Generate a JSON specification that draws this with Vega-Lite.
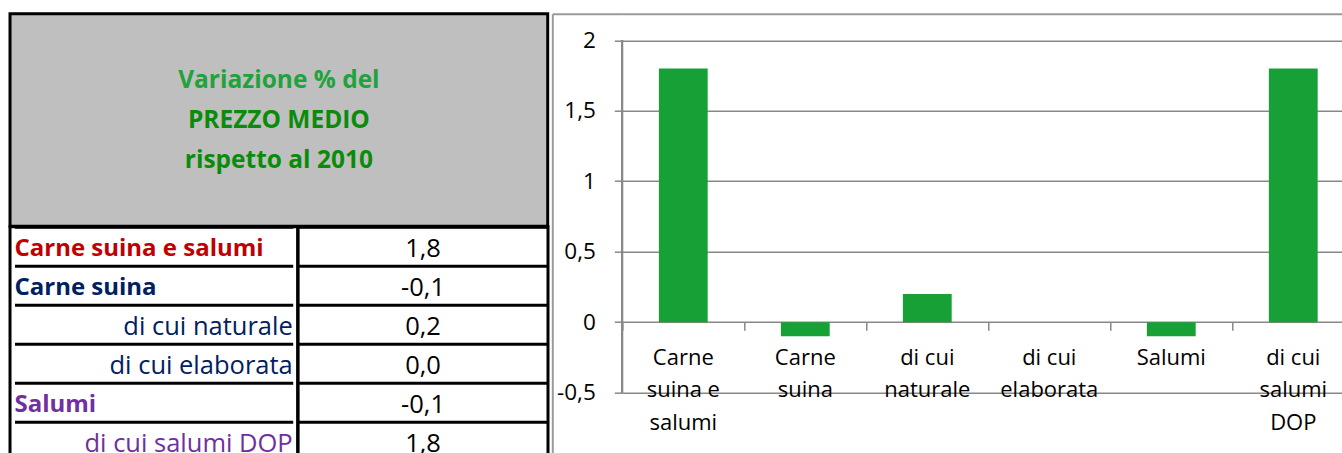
{
  "$schema": "https://vega.github.io/schema/vega-lite/v6.json",
  "padding": {"left": 8, "top": 11.7, "right": 0, "bottom": 0},
  "background": "white",
  "config": {
    "font": "Open Sans",
    "locale": {"number": {"decimal": ",", "thousands": ".", "grouping": [3], "currency": ["€", ""], "minus": "-"}},
    "view": {"stroke": null}
  },
  "datasets": {
    "righe": [
      {"voce": "Carne suina e salumi", "livello": "principale", "variazione": 1.8},
      {"voce": "Carne suina", "livello": "principale", "variazione": -0.1},
      {"voce": "di cui naturale", "livello": "dettaglio", "variazione": 0.2},
      {"voce": "di cui elaborata", "livello": "dettaglio", "variazione": 0.0},
      {"voce": "Salumi", "livello": "principale", "variazione": -0.1},
      {"voce": "di cui salumi DOP", "livello": "dettaglio", "variazione": 1.8}
    ],
    "titolo": [
      {"riga": 1, "testo": "Variazione % del"},
      {"riga": 2, "testo": "PREZZO MEDIO"},
      {"riga": 3, "testo": "rispetto al 2010"}
    ]
  },
  "spacing": 1.3,
  "resolve": {"scale": {"color": "independent"}},
  "hconcat": [
    {
      "bounds": "flush",
      "spacing": 0,
      "resolve": {"scale": {"color": "independent"}},
      "vconcat": [
        {
          "width": 537.7,
          "height": 212.6,
          "data": {"name": "titolo"},
          "view": {"fill": "#BFBFBF", "stroke": "black", "strokeWidth": 3},
          "mark": {"type": "text", "fontSize": 24.5, "fontWeight": "bold", "baseline": "middle", "align": "center"},
          "encoding": {
            "y": {"field": "riga", "type": "ordinal", "scale": {"type": "point", "padding": 0, "range": [67.8, 147.8]}, "axis": null},
            "text": {"field": "testo"},
            "color": {"field": "riga", "type": "nominal", "scale": {"domain": [1, 2, 3], "range": ["#22A23C", "#0A8C0A", "#0A8C0A"]}, "legend": null}
          }
        },
        {
          "bounds": "flush",
          "spacing": 0,
          "resolve": {"scale": {"color": "independent"}},
          "hconcat": [
            {
              "width": 287.7,
              "height": 234,
              "data": {"name": "righe"},
              "view": {"stroke": "black", "strokeWidth": 3},
              "encoding": {
                "y": {"field": "voce", "type": "nominal",
                  "scale": {"domain": ["Carne suina e salumi", "Carne suina", "di cui naturale", "di cui elaborata", "Salumi", "di cui salumi DOP"], "paddingInner": 0, "paddingOuter": 0},
                  "axis": {"title": null, "labels": false, "ticks": false, "domain": false, "grid": true, "gridColor": "black", "gridWidth": 3, "tickBand": "extent"}},
                "x": {"field": "livello", "type": "nominal", "scale": {"type": "point", "padding": 0, "domain": ["principale", "dettaglio"], "range": [4.5, 282.7]}, "axis": null},
                "color": {"field": "voce", "type": "nominal",
                  "scale": {"domain": ["Carne suina e salumi", "Carne suina", "di cui naturale", "di cui elaborata", "Salumi", "di cui salumi DOP"], "range": ["#C00000", "#002060", "#002060", "#002060", "#7030A0", "#7030A0"]},
                  "legend": null},
                "text": {"field": "voce"}
              },
              "layer": [
                {"transform": [{"filter": "datum.livello === 'principale'"}],
                 "mark": {"type": "text", "align": "left", "baseline": "middle", "fontWeight": "bold", "fontSize": 24, "dy": 3}},
                {"transform": [{"filter": "datum.livello === 'dettaglio'"}],
                 "mark": {"type": "text", "align": "right", "baseline": "middle", "fontSize": 25.5, "dy": 3}}
              ]
            },
            {
              "width": 250,
              "height": 234,
              "data": {"name": "righe"},
              "view": {"stroke": "black", "strokeWidth": 3},
              "mark": {"type": "text", "align": "center", "baseline": "middle", "fontSize": 25.5, "dy": 3, "color": "black"},
              "encoding": {
                "y": {"field": "voce", "type": "nominal",
                  "scale": {"domain": ["Carne suina e salumi", "Carne suina", "di cui naturale", "di cui elaborata", "Salumi", "di cui salumi DOP"], "paddingInner": 0, "paddingOuter": 0},
                  "axis": {"title": null, "labels": false, "ticks": false, "domain": false, "grid": true, "gridColor": "black", "gridWidth": 3, "tickBand": "extent"}},
                "text": {"field": "variazione", "type": "quantitative", "format": ".1f"}
              }
            }
          ]
        }
      ]
    },
    {
      "width": 732,
      "height": 440,
      "data": {"name": "righe"},
      "encoding": {
        "x": {"field": "voce", "type": "nominal", "sort": null,
          "scale": {"domain": ["Carne suina e salumi", "Carne suina", "di cui naturale", "di cui elaborata", "Salumi", "di cui salumi DOP"], "paddingInner": 0, "paddingOuter": 0},
          "axis": {"title": null, "domain": false, "grid": false, "ticks": true, "bandPosition": 0, "tickSize": 8, "tickColor": "#888888", "tickWidth": 1.5,
            "offset": -131.5, "labelFontSize": 22, "labelColor": "black", "labelPadding": 17, "labelLineHeight": 32.5, "labelAngle": 0,
            "labelOverlap": false, "labelBound": false, "labelFlush": false,
            "labelExpr": "({'Carne suina e salumi': ['Carne', 'suina e', 'salumi'], 'Carne suina': ['Carne', 'suina'], 'di cui naturale': ['di cui', 'naturale'], 'di cui elaborata': ['di cui', 'elaborata'], 'Salumi': 'Salumi', 'di cui salumi DOP': ['di cui', 'salumi', 'DOP']})[datum.label]"}}
      },
      "layer": [
        {
          "mark": {"type": "bar", "color": "#16A035", "width": {"band": 0.4}},
          "encoding": {
            "y": {"field": "variazione", "type": "quantitative",
              "scale": {"domain": [-0.933, 2.188], "nice": false},
              "axis": {"orient": "left", "title": null, "values": [-0.5, 0, 0.5, 1, 1.5, 2], "domain": false, "grid": true, "gridColor": "#888888", "gridWidth": 1.5,
                "ticks": true, "tickSize": 8, "tickColor": "#888888", "tickWidth": 1.5, "labelFontSize": 22.5, "labelColor": "black", "labelPadding": 19,
                "labelExpr": "replace(toString(datum.value), '.', ',')"}}
          }
        },
        {
          "mark": {"type": "rule", "color": "#888888", "strokeWidth": 1.5},
          "encoding": {
            "x": {"datum": "Carne suina e salumi", "bandPosition": 0},
            "y": {"datum": -0.5, "type": "quantitative",
              "axis": {"orient": "left", "offset": 70, "title": null, "labels": false, "values": [2.188], "grid": true, "gridColor": "#9A9A9A", "gridWidth": 2,
                "domain": true, "domainColor": "#9A9A9A", "domainWidth": 2, "ticks": true, "tickSize": -70, "tickColor": "#9A9A9A", "tickWidth": 2}},
            "y2": {"datum": 2}
          }
        }
      ],
      "resolve": {"axis": {"y": "independent"}}
    }
  ]
}
